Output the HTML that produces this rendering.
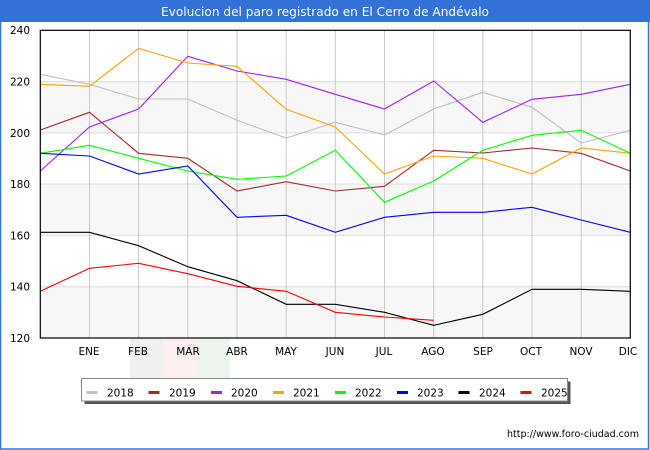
<!DOCTYPE html>
<html><head><meta charset="utf-8"><style>
html,body{margin:0;padding:0;background:#fff}
svg{display:block}
text{font-family:"DejaVu Sans","Liberation Sans",sans-serif}
</style></head><body>
<svg width="650" height="450" viewBox="0 0 650 450" xmlns="http://www.w3.org/2000/svg">
<rect x="0" y="0" width="650" height="450" fill="#fff"/>
<rect x="0" y="0" width="650" height="22" fill="#3371d6"/>
<rect x="0.5" y="0" width="648" height="449" fill="none" stroke="#3371d6" stroke-width="1.5"/>
<text x="325" y="16" fill="#fff" font-size="12.5" text-anchor="middle" textLength="328" lengthAdjust="spacingAndGlyphs">Evolucion del paro registrado en El Cerro de Andévalo</text>
<!-- watermark -->
<rect x="130" y="338" width="33" height="40" fill="#f0f0f0"/>
<rect x="163" y="338" width="34" height="40" fill="#fcefef"/>
<rect x="197" y="338" width="33" height="40" fill="#eef5ee"/>
<!-- bands -->
<rect x="40.3" y="286.7" width="590" height="51.3" fill="#f7f7f7"/>
<rect x="40.3" y="184" width="590" height="51.3" fill="#f7f7f7"/>
<rect x="40.3" y="81.6" width="590" height="51.3" fill="#f7f7f7"/>
<!-- horizontal grid -->
<g stroke="#dcdcdc" stroke-width="1">
<line x1="40.3" y1="286.7" x2="630.3" y2="286.7"/>
<line x1="40.3" y1="235.3" x2="630.3" y2="235.3"/>
<line x1="40.3" y1="184" x2="630.3" y2="184"/>
<line x1="40.3" y1="132.9" x2="630.3" y2="132.9"/>
<line x1="40.3" y1="81.6" x2="630.3" y2="81.6"/>
</g>
<!-- vertical grid -->
<g stroke="#c8c8c8" stroke-width="1">
<line x1="89.5" y1="30.3" x2="89.5" y2="338"/>
<line x1="138.6" y1="30.3" x2="138.6" y2="338"/>
<line x1="187.8" y1="30.3" x2="187.8" y2="338"/>
<line x1="237" y1="30.3" x2="237" y2="338"/>
<line x1="286.2" y1="30.3" x2="286.2" y2="338"/>
<line x1="335.3" y1="30.3" x2="335.3" y2="338"/>
<line x1="384.5" y1="30.3" x2="384.5" y2="338"/>
<line x1="433.7" y1="30.3" x2="433.7" y2="338"/>
<line x1="482.8" y1="30.3" x2="482.8" y2="338"/>
<line x1="532" y1="30.3" x2="532" y2="338"/>
<line x1="581.2" y1="30.3" x2="581.2" y2="338"/>
</g>
<!-- series -->
<g fill="none" stroke-width="1.1" stroke-linejoin="miter">
<polyline stroke="#c0c0c0" points="40.3,74.3 89.5,84.3 138.6,99 187.8,99 237,120.3 286.2,138 335.3,122.3 384.5,135 433.7,109 482.8,92.3 532,107.3 581.2,143 630.3,130.3"/>
<polyline stroke="#a52a2a" points="40.3,130 89.5,112.3 138.6,153.3 187.8,158.3 237,191 286.2,181.7 335.3,191 384.5,186.3 433.7,150.3 482.8,153 532,148 581.2,153.3 630.3,171"/>
<polyline stroke="#a020f0" points="40.3,171 89.5,127 138.6,109 187.8,56.3 237,71 286.2,79.3 335.3,94.3 384.5,109 433.7,81 482.8,122.3 532,99.3 581.2,94.3 630.3,84.3"/>
<polyline stroke="#ffa500" points="40.3,84.3 89.5,86.3 138.6,48.3 187.8,63 237,66.3 286.2,109.3 335.3,127 384.5,174 433.7,156 482.8,158.3 532,174 581.2,148 630.3,153.3"/>
<polyline stroke="#00ff00" points="40.3,153.3 89.5,145.3 138.6,158.3 187.8,171 237,179.3 286.2,176 335.3,150.3 384.5,202.3 433.7,181 482.8,150.3 532,135.3 581.2,130.3 630.3,153.3"/>
<polyline stroke="#0000ff" points="40.3,153.3 89.5,156 138.6,174 187.8,166 237,217.3 286.2,215.3 335.3,232.3 384.5,217.3 433.7,212.3 482.8,212.3 532,207.3 581.2,220 630.3,232.3"/>
<polyline stroke="#000000" points="40.3,232.3 89.5,232.3 138.6,245.7 187.8,266.7 237,280.7 286.2,304.3 335.3,304.3 384.5,312.3 433.7,325.3 482.8,314.3 532,289.3 581.2,289.3 630.3,291.3"/>
<polyline stroke="#ff0000" points="40.3,291.3 89.5,268.3 138.6,263.3 187.8,273.7 237,286.3 286.2,291.3 335.3,312.3 384.5,317 433.7,320.3"/>
</g>
<!-- plot frame -->
<rect x="40.3" y="30.3" width="590" height="307.7" fill="none" stroke="#000" stroke-width="1.2"/>
<!-- y labels -->
<g font-size="10.5" fill="#000" text-anchor="end">
<text x="30" y="34">240</text>
<text x="30" y="85.5">220</text>
<text x="30" y="137">200</text>
<text x="30" y="188">180</text>
<text x="30" y="239.5">160</text>
<text x="30" y="290.5">140</text>
<text x="30" y="342">120</text>
</g>
<!-- x labels -->
<g font-size="10.5" fill="#000" text-anchor="middle">
<text x="89" y="355">ENE</text>
<text x="138" y="355">FEB</text>
<text x="188" y="355">MAR</text>
<text x="237" y="355">ABR</text>
<text x="286" y="355">MAY</text>
<text x="335" y="355">JUN</text>
<text x="384" y="355">JUL</text>
<text x="433" y="355">AGO</text>
<text x="483" y="355">SEP</text>
<text x="531" y="355">OCT</text>
<text x="581" y="355">NOV</text>
<text x="628" y="355">DIC</text>
</g>
<!-- legend -->
<rect x="84.5" y="381.5" width="486" height="22.5" fill="#555"/>
<rect x="81.5" y="378.5" width="486" height="22.5" fill="#fff" stroke="#888" stroke-width="1"/>
<g stroke-width="3">
<line x1="86.5" y1="392.5" x2="97.5" y2="392.5" stroke="#c0c0c0"/>
<line x1="148.5" y1="392.5" x2="159.5" y2="392.5" stroke="#a52a2a"/>
<line x1="211" y1="392.5" x2="222" y2="392.5" stroke="#a020f0"/>
<line x1="273" y1="392.5" x2="284" y2="392.5" stroke="#ffa500"/>
<line x1="335" y1="392.5" x2="346" y2="392.5" stroke="#00ff00"/>
<line x1="397" y1="392.5" x2="408" y2="392.5" stroke="#0000ff"/>
<line x1="458.5" y1="392.5" x2="469.5" y2="392.5" stroke="#000000"/>
<line x1="520.5" y1="392.5" x2="531.5" y2="392.5" stroke="#ff0000"/>
</g>
<g font-size="10.5" fill="#000">
<text x="107" y="396.5">2018</text>
<text x="169" y="396.5">2019</text>
<text x="231" y="396.5">2020</text>
<text x="293" y="396.5">2021</text>
<text x="355" y="396.5">2022</text>
<text x="417" y="396.5">2023</text>
<text x="479" y="396.5">2024</text>
<text x="541" y="396.5">2025</text>
</g>
<text x="507" y="437" font-size="10" fill="#000" textLength="132" lengthAdjust="spacingAndGlyphs">http://www.foro-ciudad.com</text>
</svg>
</body></html>
